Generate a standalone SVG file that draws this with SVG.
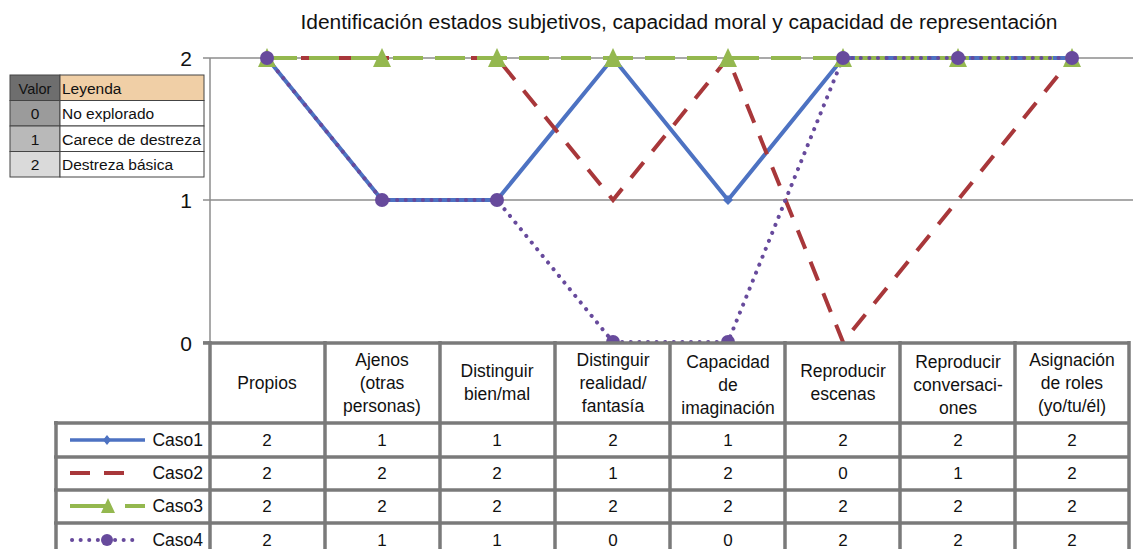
<svg xmlns="http://www.w3.org/2000/svg" width="1133" height="549" viewBox="0 0 1133 549">
<style>
text{font-family:"Liberation Sans",Arial,sans-serif;fill:#111;}
.t{font-size:20px;}
.ax{font-size:21px;text-anchor:end;}
.h{font-size:17.5px;text-anchor:middle;}
.n{font-size:17px;text-anchor:middle;}
.cs{font-size:17.5px;text-anchor:end;}
.lg{font-size:15.5px;}
.grid{stroke:#8c8c8c;stroke-width:1.5;fill:none;}
.tb{stroke:#7a7a7a;stroke-width:3.5;fill:none;}
.c1{stroke:#4d72c2;stroke-width:4;fill:none;stroke-linejoin:round;}
.c2{stroke:#a8373a;stroke-width:4;fill:none;stroke-dasharray:20 14;}
.c3{stroke:#94b84f;stroke-width:4;fill:none;stroke-dasharray:30 12;}
.c4{stroke:#674a9c;stroke-width:4;fill:none;stroke-dasharray:0.1 8.5;stroke-linecap:round;}
.m1{fill:#4d72c2;}
.m3{fill:#94b84f;}
.m4{fill:#674a9c;}
.lb{stroke:#444;stroke-width:1;}
</style>
<defs>
<path id="dia" d="M0,-5 L5,0 L0,5 L-5,0 Z"/>
<path id="tri" d="M0,-10 L9,9 L-9,9 Z"/>
</defs>
<rect width="1133" height="549" fill="#fff"/>
<text class="t" x="679" y="29" text-anchor="middle" textLength="757" lengthAdjust="spacingAndGlyphs">Identificación estados subjetivos, capacidad moral y capacidad de representación</text>

<g id="axes">
<line class="grid" x1="203" y1="58" x2="1133" y2="58"/>
<line class="grid" x1="203" y1="200" x2="1133" y2="200"/>
<line class="grid" x1="203" y1="342" x2="210" y2="342"/>
<line class="grid" x1="210" y1="58" x2="210" y2="342"/>
<text class="ax" x="192" y="66">2</text>
<text class="ax" x="192" y="208">1</text>
<text class="ax" x="192" y="351">0</text>
</g>

<g id="legend-table">
<rect x="10" y="75" width="50" height="25.5" fill="#6e6e6e" class="lb"/>
<rect x="60" y="75" width="144" height="25.5" fill="#f0cfa6" class="lb"/>
<rect x="10" y="100.5" width="50" height="25.5" fill="#9b9b9b" class="lb"/>
<rect x="60" y="100.5" width="144" height="25.5" fill="#fff" class="lb"/>
<rect x="10" y="126" width="50" height="25.5" fill="#b9b9b9" class="lb"/>
<rect x="60" y="126" width="144" height="25.5" fill="#fff" class="lb"/>
<rect x="10" y="151.5" width="50" height="25.5" fill="#dadada" class="lb"/>
<rect x="60" y="151.5" width="144" height="25.5" fill="#fff" class="lb"/>
<text class="lg" x="35" y="93.5" text-anchor="middle" style="font-size:14.5px">Valor</text>
<text class="lg" x="62" y="93.5">Leyenda</text>
<text class="lg" x="35" y="119" text-anchor="middle">0</text>
<text class="lg" x="62" y="119">No explorado</text>
<text class="lg" x="35" y="144.5" text-anchor="middle">1</text>
<text class="lg" x="62" y="144.5" textLength="139" lengthAdjust="spacingAndGlyphs">Carece de destreza</text>
<text class="lg" x="35" y="170" text-anchor="middle">2</text>
<text class="lg" x="62" y="170">Destreza básica</text>
</g>

<g id="connectors">
<polyline id="caso1" class="c1" points="267,58 382,200 497,200 613,58 728,200 843,58 958,58 1072,58"/>
<polyline id="caso2" class="c2" points="267,58 382,58 497,58 613,200 728,58 843,342 958,200 1072,58"/>
<polyline id="caso3" class="c3" points="267,58 382,58 497,58 613,58 728,58 843,58 958,58 1072,58"/>
<polyline id="caso4" class="c4" points="267,58 382,200 497,200 613,342 728,342 843,58 958,58 1072,58"/>
</g>

<g id="markers">
<g class="m1">
<use href="#dia" x="267" y="58"/><use href="#dia" x="382" y="200"/><use href="#dia" x="497" y="200"/><use href="#dia" x="613" y="58"/><use href="#dia" x="728" y="200"/><use href="#dia" x="843" y="58"/><use href="#dia" x="958" y="58"/><use href="#dia" x="1072" y="58"/>
</g>
<g class="m3">
<use href="#tri" x="267" y="58"/><use href="#tri" x="382" y="58"/><use href="#tri" x="497" y="58"/><use href="#tri" x="613" y="58"/><use href="#tri" x="728" y="58"/><use href="#tri" x="843" y="58"/><use href="#tri" x="958" y="58"/><use href="#tri" x="1072" y="58"/>
</g>
<g class="m4">
<circle cx="267" cy="58" r="7"/><circle cx="382" cy="200" r="7"/><circle cx="497" cy="200" r="7"/><circle cx="613" cy="342" r="7"/><circle cx="728" cy="342" r="7"/><circle cx="843" cy="58" r="7"/><circle cx="958" cy="58" r="7"/><circle cx="1072" cy="58" r="7"/>
</g>
</g>

<g id="data-table">
<rect x="210" y="344" width="920" height="210" fill="#fff"/>
<rect x="56" y="423" width="154" height="130" fill="#fff"/>
<line class="tb" x1="203" y1="343" x2="1130" y2="343"/>
<line class="tb" x1="54" y1="423" x2="1130" y2="423"/>
<line class="tb" x1="54" y1="457" x2="1130" y2="457"/>
<line class="tb" x1="54" y1="490" x2="1130" y2="490"/>
<line class="tb" x1="54" y1="523" x2="1130" y2="523"/>
<line class="tb" x1="56" y1="421" x2="56" y2="549"/>
<line class="tb" x1="210" y1="341" x2="210" y2="549"/>
<line class="tb" x1="325" y1="341" x2="325" y2="549"/>
<line class="tb" x1="440" y1="341" x2="440" y2="549"/>
<line class="tb" x1="555" y1="341" x2="555" y2="549"/>
<line class="tb" x1="670" y1="341" x2="670" y2="549"/>
<line class="tb" x1="785" y1="341" x2="785" y2="549"/>
<line class="tb" x1="900" y1="341" x2="900" y2="549"/>
<line class="tb" x1="1015" y1="341" x2="1015" y2="549"/>
<line class="tb" x1="1129" y1="341" x2="1129" y2="549"/>

<text class="h" x="267" y="389">Propios</text>
<text class="h" x="382" y="366">Ajenos</text>
<text class="h" x="382" y="389">(otras</text>
<text class="h" x="382" y="412">personas)</text>
<text class="h" x="497" y="377">Distinguir</text>
<text class="h" x="497" y="400">bien/mal</text>
<text class="h" x="613" y="366">Distinguir</text>
<text class="h" x="613" y="389">realidad/</text>
<text class="h" x="613" y="412">fantasía</text>
<text class="h" x="728" y="368">Capacidad</text>
<text class="h" x="728" y="391">de</text>
<text class="h" x="728" y="414">imaginación</text>
<text class="h" x="843" y="377">Reproducir</text>
<text class="h" x="843" y="400">escenas</text>
<text class="h" x="958" y="368">Reproducir</text>
<text class="h" x="958" y="391">conversaci-</text>
<text class="h" x="958" y="414">ones</text>
<text class="h" x="1072" y="366">Asignación</text>
<text class="h" x="1072" y="389">de roles</text>
<text class="h" x="1072" y="412">(yo/tu/él)</text>

<g id="row-legend">
<line class="c1" x1="70" y1="440" x2="145" y2="440" style="stroke-width:3.5"/>
<path class="m1" d="M107,435 L111,440 L107,445 L103,440 Z"/>
<text class="cs" x="203" y="446">Caso1</text>
<line class="c2" x1="70" y1="473" x2="128" y2="473" style="stroke-dasharray:20 14"/>
<text class="cs" x="203" y="479">Caso2</text>
<line class="c3" x1="70" y1="506" x2="145" y2="506" style="stroke-dasharray:37 18"/>
<path class="m3" d="M108,498 L115,513 L101,513 Z"/>
<text class="cs" x="203" y="512">Caso3</text>
<line class="c4" x1="72" y1="540" x2="140" y2="540"/>
<circle class="m4" cx="107" cy="540" r="6"/>
<text class="cs" x="203" y="546">Caso4</text>
</g>

<text class="n" x="267" y="446">2</text><text class="n" x="382" y="446">1</text><text class="n" x="497" y="446">1</text><text class="n" x="613" y="446">2</text><text class="n" x="728" y="446">1</text><text class="n" x="843" y="446">2</text><text class="n" x="958" y="446">2</text><text class="n" x="1072" y="446">2</text>
<text class="n" x="267" y="479">2</text><text class="n" x="382" y="479">2</text><text class="n" x="497" y="479">2</text><text class="n" x="613" y="479">1</text><text class="n" x="728" y="479">2</text><text class="n" x="843" y="479">0</text><text class="n" x="958" y="479">1</text><text class="n" x="1072" y="479">2</text>
<text class="n" x="267" y="512">2</text><text class="n" x="382" y="512">2</text><text class="n" x="497" y="512">2</text><text class="n" x="613" y="512">2</text><text class="n" x="728" y="512">2</text><text class="n" x="843" y="512">2</text><text class="n" x="958" y="512">2</text><text class="n" x="1072" y="512">2</text>
<text class="n" x="267" y="546">2</text><text class="n" x="382" y="546">1</text><text class="n" x="497" y="546">1</text><text class="n" x="613" y="546">0</text><text class="n" x="728" y="546">0</text><text class="n" x="843" y="546">2</text><text class="n" x="958" y="546">2</text><text class="n" x="1072" y="546">2</text>
</g>
</svg>
